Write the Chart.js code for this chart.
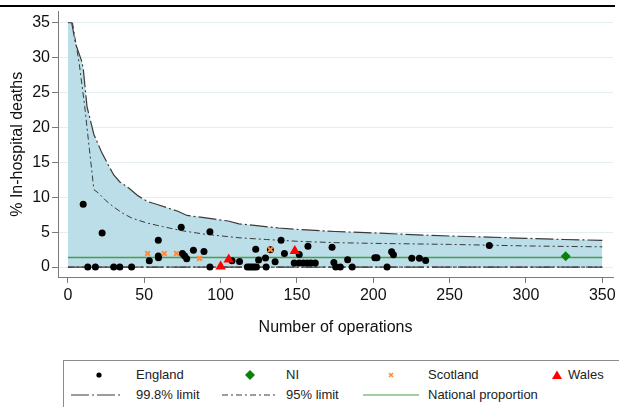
<!DOCTYPE html>
<html>
<head>
<meta charset="utf-8">
<script src="https://cdn.jsdelivr.net/npm/chart.js@4.4.0/dist/chart.umd.min.js"></script>
<style>
  body { margin: 0; background: #fff; width: 619px; height: 407px; overflow: hidden; position: relative;
         font-family: 'Liberation Sans', Arial, sans-serif; }
  #topline { position: absolute; left: 0; top: 5px; width: 615px; height: 2px; background: #000; }
  #wrap { position: absolute; left: 0; top: 0; width: 619px; height: 355px; }
  #legend { position: absolute; left: 63px; top: 360px; width: 600px; height: 80px;
            border: 1px solid #8c8c8c; box-sizing: border-box; }
  .lt { position: absolute; font-size: 13px; line-height: 16px; color: #222; white-space: nowrap; }
  .mk { position: absolute; overflow: visible; }
</style>
</head>
<body>
<div id="topline"></div>
<div id="wrap"><canvas id="chart" width="619" height="355"></canvas></div>
<div id="legend"></div>
<div id="legend-items"></div>
<script>
// ---------------------------------------------
// data
// ---------------------------------------------
const xTicks = [0, 50, 100, 150, 200, 250, 300, 350];
const yTicks = [0, 5, 10, 15, 20, 25, 30, 35];

// 99.8% upper control limit
const lim998N   = [0, 2.5, 5, 9, 10, 12.5, 17, 22, 26, 30, 34, 40, 46, 52, 58, 65, 72, 78, 85, 95, 105, 112, 125, 138, 150, 175, 200, 225, 250, 275, 300, 325, 350];
const lim998Pct = [35, 35, 32, 29.5, 28.5, 23, 19, 16.5, 14.8, 13.2, 12.2, 11.3, 10.2, 9.4, 9.0, 8.5, 8.0, 7.4, 7.2, 6.9, 6.6, 6.2, 5.9, 5.6, 5.4, 5.1, 4.9, 4.65, 4.45, 4.3, 4.12, 3.95, 3.84];

// 95% upper control limit
const lim95N   = [3, 7.5, 11, 14, 17, 20, 25, 30, 36, 42, 52, 62, 75, 90, 112, 130, 150, 175, 200, 250, 300, 350];
const lim95Pct = [35, 29, 23, 17, 11.1, 10.6, 9.5, 8.6, 7.7, 7.0, 6.3, 5.8, 5.2, 4.7, 4.2, 3.95, 3.7, 3.5, 3.4, 3.25, 3.03, 2.9];

// lower limits sit on zero
const lowerN   = [0, 350];
const lowerPct = [0, 0];

const nationalN   = [0, 350];
const nationalPct = [1.37, 1.37];

const englandN   = [10, 22.4, 13, 18, 30, 34, 41.7, 53.3, 59.2, 59.2, 59.3, 74.2, 75, 76.5, 77.8, 82.2, 89.1, 93, 93, 107.5, 112.4, 117.5, 119, 120.5, 122, 123.5, 123, 124.9, 129.4, 129.8, 132.6, 135.7, 139.6, 141.8, 148.2, 151.5, 154.1, 156.7, 159.1, 162, 151.5, 157.2, 173, 174.2, 175.4, 178.4, 183.2, 186.2, 201, 202.4, 209, 212, 213.2, 225.2, 230.2, 234.3, 276];
const englandPct = [9.0, 4.9, 0, 0, 0, 0, 0, 0.9, 3.85, 1.6, 1.35, 5.7, 1.95, 1.6, 1.2, 2.4, 2.25, 5.05, 0, 0.9, 0.8, 0, 0, 0, 0, 0, 2.55, 1.0, 1.3, 0, 2.5, 0.75, 3.85, 1.95, 0.6, 0.6, 0.6, 0.6, 0.6, 0.6, 1.8, 3.0, 2.85, 0.65, 0, 0, 1.05, 0, 1.33, 1.33, 0, 2.2, 1.75, 1.25, 1.25, 0.95, 3.1];

const niN   = [326];
const niPct = [1.57];

const scotlandN   = [52.2, 63.1, 71.1, 86.2, 132.6];
const scotlandPct = [1.95, 1.95, 1.95, 1.25, 2.5];

const walesN   = [100, 105.3, 148.6];
const walesPct = [0.1, 1.1, 2.3];

function pts(xs, ys) {
    return xs.map((x, i) => ({ x: x, y: ys[i] }));
}

// ---------------------------------------------
// chart
// ---------------------------------------------
Chart.defaults.font.family = "'Liberation Sans', Arial, sans-serif";
Chart.defaults.color = '#000';

const dash998 = [18, 3, 2, 3];
const dash95 = [6, 3, 2, 3];
const limitColor = '#3a3a3a';
const axisColor = '#7a7a7a';
const natColor = '#45a045';

const ctx = document.getElementById('chart').getContext('2d');
new Chart(ctx, {
    type: 'scatter',
    data: {
        datasets: [
            { label: '99.8% limit', data: pts(lim998N, lim998Pct), showLine: true, pointRadius: 0,
              borderColor: limitColor, borderWidth: 1.2, borderDash: dash998,
              fill: 'origin', backgroundColor: 'rgb(188,222,232)', order: 10 },
            { label: '95% limit', data: pts(lim95N, lim95Pct), showLine: true, pointRadius: 0,
              borderColor: limitColor, borderWidth: 1, borderDash: dash95, fill: false, order: 9 },
            { label: 'lower 99.8', data: pts(lowerN, lowerPct), showLine: true, pointRadius: 0,
              borderColor: limitColor, borderWidth: 1.2, borderDash: dash998, fill: false, order: 8 },
            { label: 'lower 95', data: pts(lowerN, lowerPct), showLine: true, pointRadius: 0,
              borderColor: limitColor, borderWidth: 1, borderDash: dash95, fill: false, order: 7 },
            { label: 'National proportion', data: pts(nationalN, nationalPct), showLine: true, pointRadius: 0,
              borderColor: natColor, borderWidth: 1.5, fill: false, order: 6 },
            { label: 'England', data: pts(englandN, englandPct), pointStyle: 'circle', pointRadius: 3.5,
              backgroundColor: '#000', borderWidth: 0, order: 4 },
            { label: 'NI', data: pts(niN, niPct), pointStyle: 'rectRot', pointRadius: 5,
              backgroundColor: '#0a820a', borderWidth: 0, order: 3 },
            { label: 'Scotland', data: pts(scotlandN, scotlandPct), pointStyle: 'crossRot', pointRadius: 3.3,
              borderColor: '#ff8a3a', borderWidth: 2, order: 2 },
            { label: 'Wales', data: pts(walesN, walesPct), pointStyle: 'triangle', pointRadius: 6,
              backgroundColor: '#ff0000', borderWidth: 0, order: 1 }
        ]
    },
    options: {
        responsive: false,
        animation: false,
        layout: { padding: { left: 0, right: 4, top: 8, bottom: 0 } },
        plugins: { legend: { display: false }, tooltip: { enabled: false } },
        scales: {
            x: {
                type: 'linear', min: -6.5, max: 357,
                afterBuildTicks: (s) => { s.ticks = xTicks.map(v => ({ value: v })); },
                afterFit: (s) => { s.height = 78; s.paddingLeft = 0; s.paddingRight = 0; },
                ticks: { padding: 3, font: { size: 16 }, color: '#111', maxRotation: 0 },
                grid: { drawOnChartArea: false, tickLength: 6, tickColor: axisColor },
                border: { color: axisColor, width: 1 },
                title: { display: true, text: 'Number of operations', font: { size: 16 },
                         color: '#111', padding: { top: 0, bottom: 18 } }
            },
            y: {
                type: 'linear', min: -1.42, max: 36.6,
                afterBuildTicks: (s) => { s.ticks = yTicks.map(v => ({ value: v })); },
                afterFit: (s) => { s.width = 58; },
                ticks: { padding: 2, font: { size: 16 }, color: '#111' },
                grid: { color: '#e4eef0', lineWidth: 1, tickLength: 6, tickColor: axisColor },
                border: { color: axisColor, width: 1 },
                title: { display: true, text: '% In-hospital deaths', font: { size: 16 },
                         color: '#111', padding: { top: 8, bottom: 0 } }
            }
        }
    }
});

// ---------------------------------------------
// legend (two rows, four columns)
// ---------------------------------------------
const legendRow1 = [
    { text: 'England',  mx: 99,  tx: 136, mark: '<circle cx="6" cy="6" r="2.6" fill="#000"/>' },
    { text: 'NI',       mx: 250, tx: 286, mark: '<polygon points="6,1 11,6 6,11 1,6" fill="#0a820a"/>' },
    { text: 'Scotland', mx: 391, tx: 428, mark: '<path d="M4,4 L8,8 M8,4 L4,8" stroke="#ff8a3a" stroke-width="1.6"/>' },
    { text: 'Wales',    mx: 557, tx: 568, mark: '<polygon points="6,1.5 11,10 1,10" fill="#ff0000"/>' }
];
const legendRow2 = [
    { text: '99.8% limit',         x1: 71,  x2: 123, tx: 136, dash: dash998, color: limitColor },
    { text: '95% limit',           x1: 222, x2: 275, tx: 286, dash: dash95,  color: limitColor },
    { text: 'National proportion', x1: 363, x2: 419, tx: 428, dash: [],      color: natColor }
];
const row1Y = 375, row2Y = 395;
let html = '';
legendRow1.forEach(e => {
    html += `<svg class="mk" width="12" height="12" style="left:${e.mx - 6}px;top:${row1Y - 6}px">${e.mark}</svg>`;
    html += `<div class="lt" style="left:${e.tx}px;top:${row1Y - 8}px">${e.text}</div>`;
});
legendRow2.forEach(e => {
    const w = e.x2 - e.x1;
    html += `<svg class="mk" width="${w}" height="4" style="left:${e.x1}px;top:${row2Y - 2}px">` +
            `<line x1="0" y1="2" x2="${w}" y2="2" stroke="${e.color}" stroke-width="1" stroke-dasharray="${e.dash.join(',')}"/></svg>`;
    html += `<div class="lt" style="left:${e.tx}px;top:${row2Y - 8}px">${e.text}</div>`;
});
document.getElementById('legend-items').innerHTML = html;
</script>
</body>
</html>
